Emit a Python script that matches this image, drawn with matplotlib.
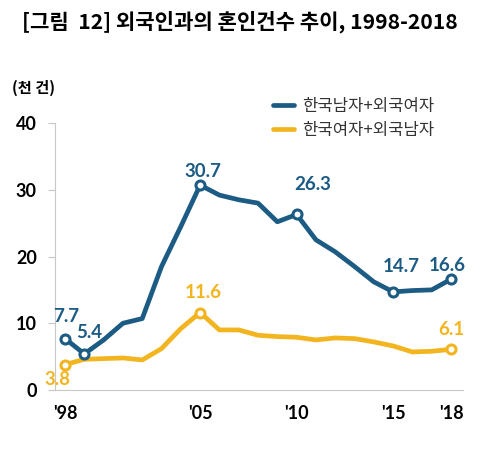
import matplotlib.pyplot as plt

plt.rcParams['font.family'] = ['Noto Sans CJK KR', 'DejaVu Sans']

years = list(range(1998, 2019))
kr_man = [7.7, 5.4, 7.5, 10.0, 10.7, 18.5, 24.5, 30.7, 29.2, 28.5, 28.0,
          25.2, 26.3, 22.5, 20.7, 18.5, 16.2, 14.7, 14.9, 15.0, 16.6]
kr_woman = [3.8, 4.6, 4.7, 4.8, 4.5, 6.2, 9.2, 11.6, 9.0, 9.0, 8.2,
            8.0, 7.9, 7.5, 7.8, 7.7, 7.2, 6.6, 5.7, 5.8, 6.1]
xticks = [1998, 2005, 2010, 2015, 2018]
xlabels = ["'98", "'05", "'10", "'15", "'18"]
man_marks = [1998, 1999, 2005, 2010, 2015, 2018]
woman_marks = [1998, 2005, 2018]

blue = '#1b5b84'
yellow = '#f2b51f'

fig = plt.figure(figsize=(5, 4.54), dpi=100)
ax = fig.add_axes([0.11, 0.141, 0.816, 0.588])

ax.plot(years, kr_man, color=blue, lw=3.4, solid_joinstyle='round',
        solid_capstyle='round', label='한국남자+외국여자', zorder=3)
ax.plot(years, kr_woman, color=yellow, lw=3.4, solid_joinstyle='round',
        solid_capstyle='round', label='한국여자+외국남자', zorder=3)

mi = [years.index(y) for y in man_marks]
wi = [years.index(y) for y in woman_marks]
ax.plot(man_marks, [kr_man[i] for i in mi], 'o', ms=6.5, mfc='white',
        mec=blue, mew=2.2, zorder=4)
ax.plot(woman_marks, [kr_woman[i] for i in wi], 'o', ms=6.5, mfc='white',
        mec=yellow, mew=2.2, zorder=4)

# value labels (offsets in pixels, label centre vs point)
man_off = {1998: (1, 22), 1999: (5, 21), 2005: (3, 14), 2010: (16, 30),
           2015: (8, 25), 2018: (-4, 14)}
for y, (dx, dy) in man_off.items():
    v = kr_man[years.index(y)]
    ax.annotate(f'{v:.1f}', (y, v), xytext=(dx, dy), textcoords='offset pixels',
                ha='center', va='center', color=blue, fontsize=13.5,
                fontweight='bold', family='Lato')
woman_off = {1998: (-8, -15), 2005: (3, 20), 2018: (0, 20)}
for y, (dx, dy) in woman_off.items():
    v = kr_woman[years.index(y)]
    ax.annotate(f'{v:.1f}', (y, v), xytext=(dx, dy), textcoords='offset pixels',
                ha='center', va='center', color=yellow, fontsize=13.5,
                fontweight='bold', family='Lato')

ax.set_xlim(1997.48, 2018.62)
ax.set_ylim(0, 40)
ax.set_yticks([0, 10, 20, 30, 40])
ax.set_xticks(xticks)
ax.set_xticklabels(xlabels)
for s in ['top', 'right']:
    ax.spines[s].set_visible(False)
for s in ['left', 'bottom']:
    ax.spines[s].set_color('#c8c8c8')
ax.tick_params(axis='y', length=5, color='#c8c8c8', pad=8, labelsize=13)
ax.tick_params(axis='x', length=0, pad=11, labelsize=13)
for t in ax.get_xticklabels() + ax.get_yticklabels():
    t.set_fontweight('bold')
    t.set_family('Lato')

ax.legend(loc='upper left', bbox_to_anchor=(0.515, 0.818),
          bbox_transform=fig.transFigure, frameon=False, fontsize=12,
          handlelength=1.3, handletextpad=0.45, labelspacing=0.42,
          labelcolor='#333333')

fig.text(0.044, 0.953, '[그림  12] 외국인과의 혼인건수 추이, 1998-2018',
         fontsize=15.2, fontweight='bold', va='center')
fig.text(0.024, 0.806, '(천 건)', fontsize=11, fontweight='bold', va='center')

fig.savefig('out.png', dpi=100)
